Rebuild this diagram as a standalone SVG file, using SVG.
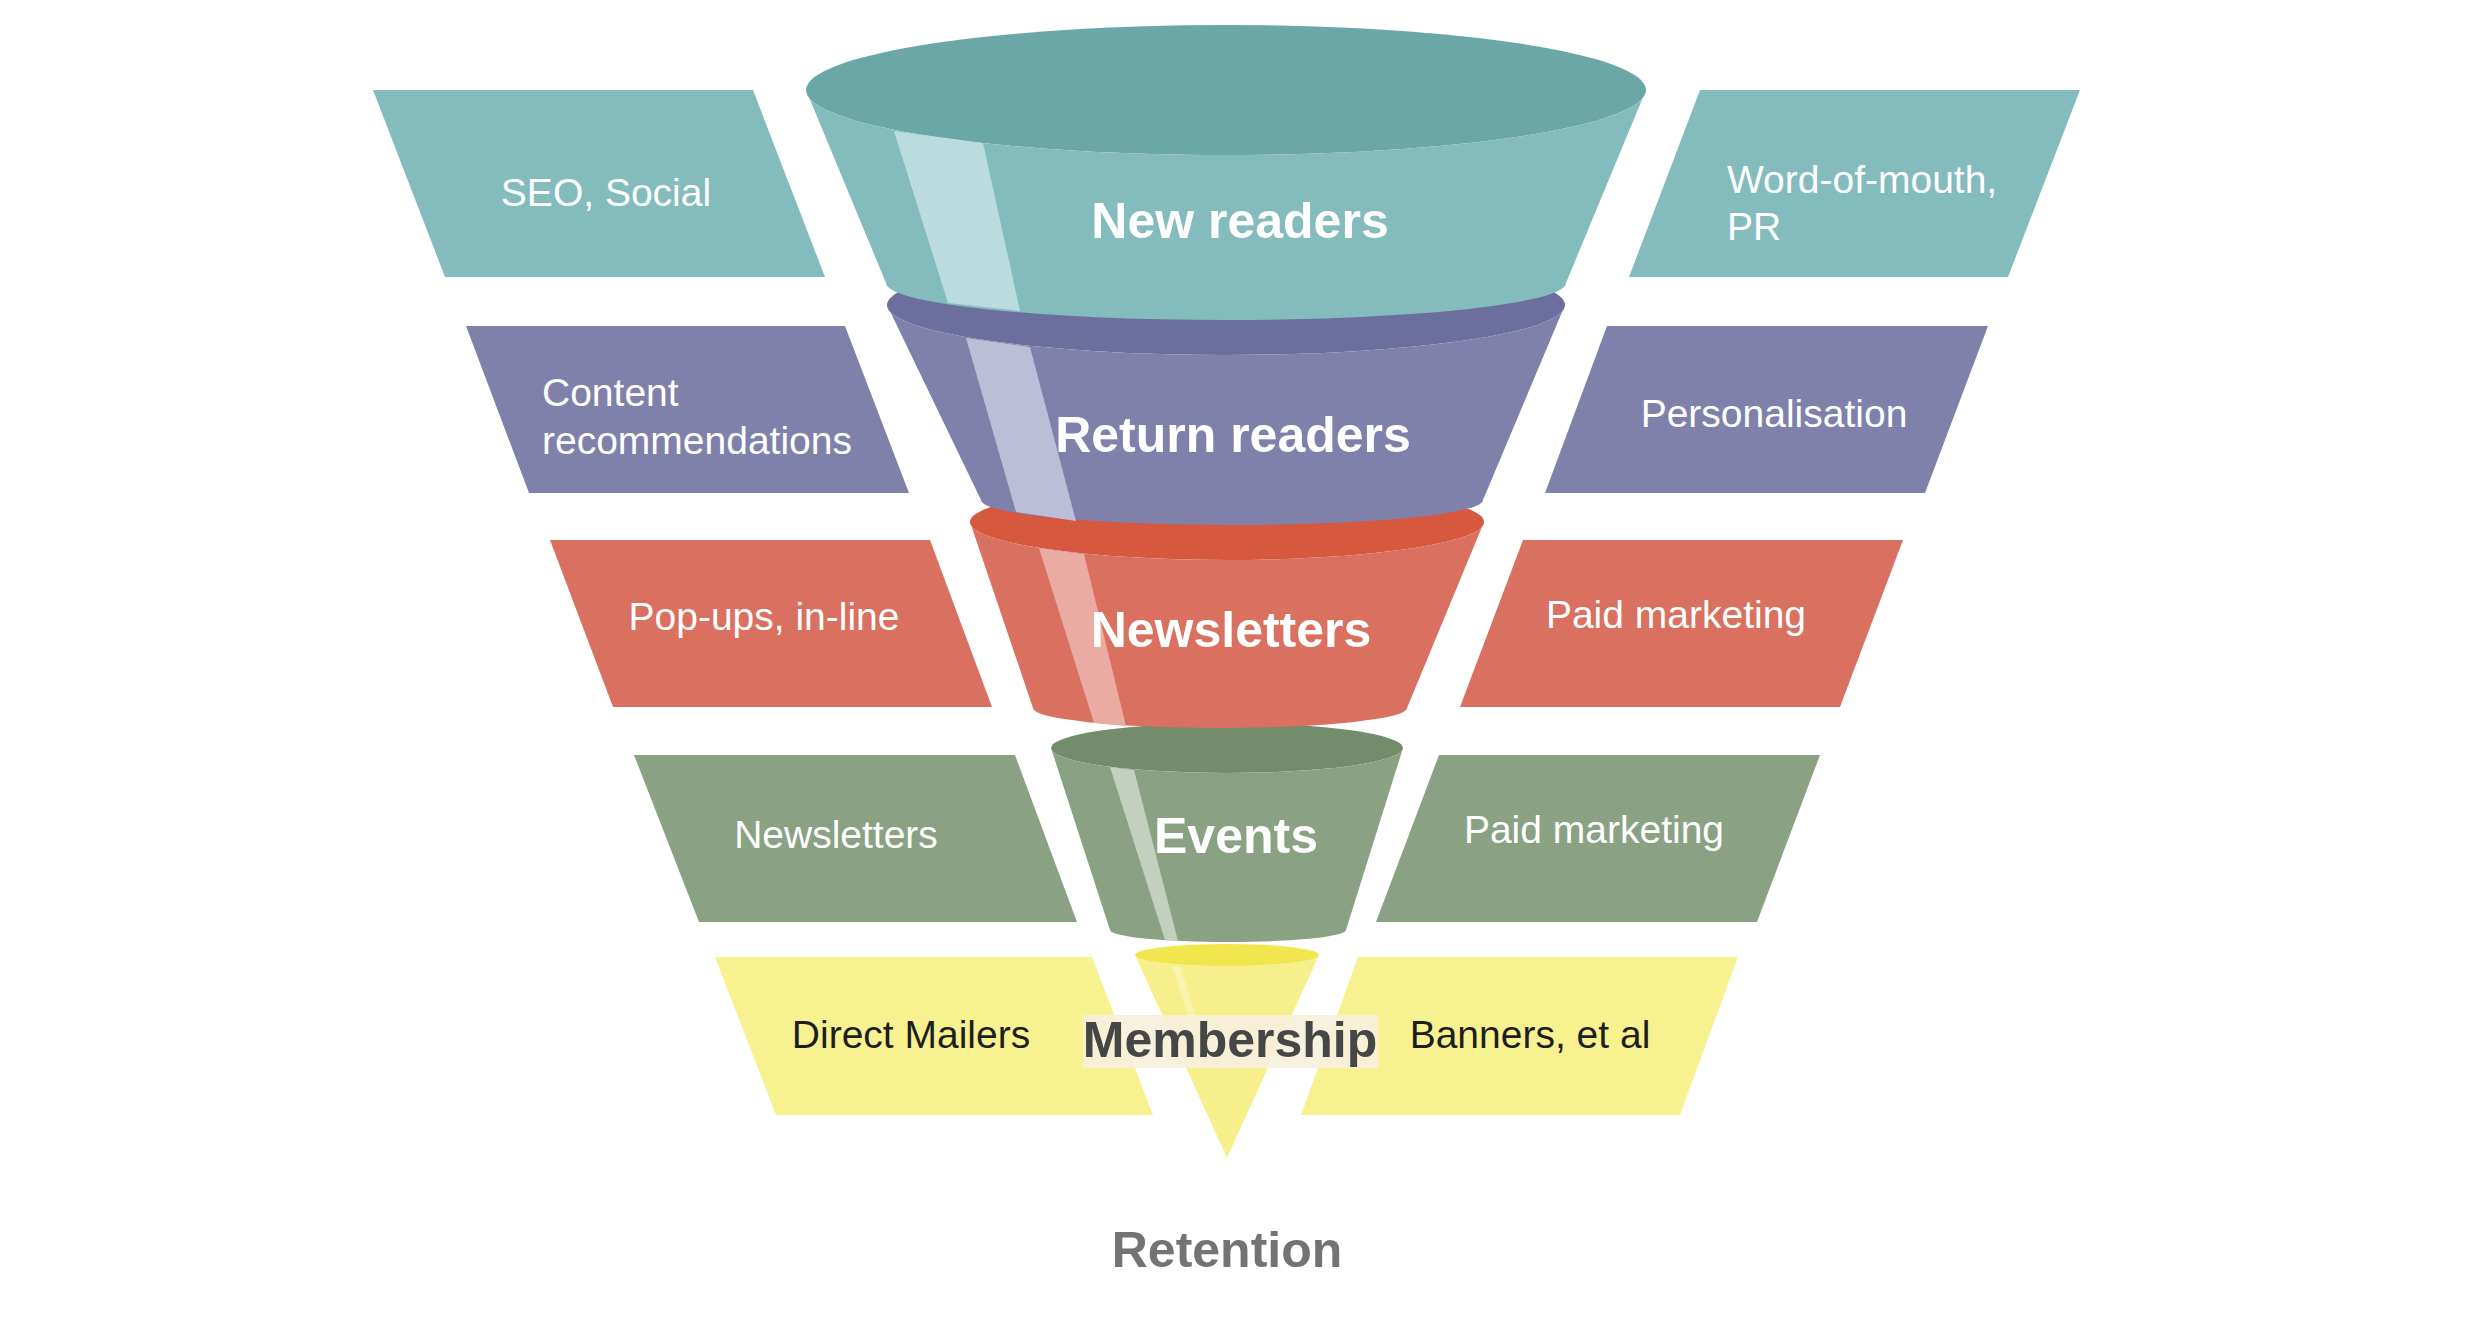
<svg xmlns="http://www.w3.org/2000/svg" width="2481" height="1335" viewBox="0 0 2481 1335">
<style>
.t{font-family:"Liberation Sans",Arial,sans-serif;font-size:39px;fill:#ffffff}
.tk{font-family:"Liberation Sans",Arial,sans-serif;font-size:39px;fill:#1e1e1e}
.b{font-family:"Liberation Sans",Arial,sans-serif;font-size:50px;font-weight:bold;fill:#ffffff}
.teal{fill:#84bcbd}.tealD{fill:#6ba7a6}.tealS{fill:#badcdf}
.pur{fill:#7f81ab}.purD{fill:#6c6f9d}.purS{fill:#bcbdd6}
.red{fill:#da7060}.redD{fill:#d6583f}.redS{fill:#e9aba2}
.grn{fill:#8aa283}.grnD{fill:#738d6c}.grnS{fill:#c3d0c0}
.yel{fill:#f7f190}.yelD{fill:#f2e64f}
</style>
<rect width="2481" height="1335" fill="#ffffff"/>

<!-- side tiles -->
<g id="tile-seo-social">
<polygon class="teal" points="373,90 753,90 825,277 445,277"/>
<text class="t" x="606" y="206" text-anchor="middle">SEO, Social</text>
</g>
<g id="tile-word-of-mouth">
<polygon class="teal" points="1700,90 2080,90 2008,277 1629,277"/>
<text class="t" x="1727" y="193">Word-of-mouth,</text>
<text class="t" x="1727" y="240">PR</text>
</g>
<g id="tile-content-recommendations">
<polygon class="pur" points="466,326 845,326 909,493 529,493"/>
<text class="t" x="542" y="406">Content</text>
<text class="t" x="542" y="454">recommendations</text>
</g>
<g id="tile-personalisation">
<polygon class="pur" points="1607,326 1988,326 1925,493 1545,493"/>
<text class="t" x="1774" y="427" text-anchor="middle">Personalisation</text>
</g>
<g id="tile-popups">
<polygon class="red" points="550,540 930,540 992,707 613,707"/>
<text class="t" x="764" y="630" text-anchor="middle">Pop-ups, in-line</text>
</g>
<g id="tile-paid-marketing-1">
<polygon class="red" points="1523,540 1903,540 1840,707 1460,707"/>
<text class="t" x="1676" y="628" text-anchor="middle">Paid marketing</text>
</g>
<g id="tile-newsletters">
<polygon class="grn" points="634,755 1015,755 1077,922 699,922"/>
<text class="t" x="836" y="848" text-anchor="middle">Newsletters</text>
</g>
<g id="tile-paid-marketing-2">
<polygon class="grn" points="1439,755 1820,755 1757,922 1376,922"/>
<text class="t" x="1594" y="843" text-anchor="middle">Paid marketing</text>
</g>
<g id="tile-direct-mailers">
<polygon class="yel" points="715,957 1092,957 1153,1115 776,1115"/>
<text class="tk" x="911" y="1048" text-anchor="middle">Direct Mailers</text>
</g>
<g id="tile-banners">
<polygon class="yel" points="1358,957 1738,957 1680,1115 1301,1115"/>
<text class="tk" x="1530" y="1048" text-anchor="middle">Banners, et al</text>
</g>

<!-- funnel sections, bottom first -->
<g id="funnel-membership">
<path d="M1135,955 A92,11 0 0 0 1319,955 L1227,1158 Z" fill="#f6ef8c"/>
<ellipse cx="1227" cy="955" rx="92" ry="11" class="yelD"/>
<polygon points="1172,966 1181,967 1199,1030 1193,1030" fill="#faf6c4" opacity="0.6"/>
<rect x="1083" y="1015" width="295" height="53" fill="#f6f0dc" opacity="0.92"/>
<text x="1230" y="1057" text-anchor="middle" font-family="'Liberation Sans',Arial,sans-serif" font-size="50" font-weight="bold" fill="#464646">Membership</text>
</g>
<g id="funnel-events">
<ellipse cx="1227" cy="748" rx="176" ry="25" class="grnD"/>
<path class="grn" d="M1051,748 A176,25 0 0 0 1403,748 L1346,930 A118,12 0 0 1 1110,930 Z"/>
<polygon class="grnS" points="1110,767 1134,770 1178,941 1165,940"/>
<text class="b" x="1236" y="853" text-anchor="middle">Events</text>
</g>
<g id="funnel-newsletters">
<ellipse cx="1227" cy="522" rx="257" ry="38" class="redD"/>
<path class="red" d="M970,522 A257,38 0 0 0 1484,522 L1407,708 A187,20 0 0 1 1033,708 Z"/>
<polygon class="redS" points="1039,548 1084,554 1126,726 1094,723"/>
<text class="b" x="1231" y="647" text-anchor="middle">Newsletters</text>
</g>
<g id="funnel-return-readers">
<ellipse cx="1226" cy="305" rx="339" ry="50" class="purD"/>
<path class="pur" d="M887,305 A339,50 0 0 0 1565,305 L1483,500 A251,25 0 0 1 981,500 Z"/>
<polygon class="purS" points="966,338 1030,347 1076,521 1016,512"/>
<text class="b" x="1233" y="452" text-anchor="middle">Return readers</text>
</g>
<g id="funnel-new-readers">
<ellipse cx="1226" cy="90" rx="420" ry="65" class="tealD"/>
<path class="teal" d="M806,90 A420,65 0 0 0 1646,90 L1566,283 A340,37 0 0 1 886,283 Z"/>
<polygon class="tealS" points="894,131 983,143 1020,311 948,303"/>
<text class="b" x="1240" y="238" text-anchor="middle">New readers</text>
</g>

<g id="label-retention">
<text x="1227" y="1267" text-anchor="middle" font-family="'Liberation Sans',Arial,sans-serif" font-size="50" font-weight="bold" fill="#737373">Retention</text>
</g>
</svg>
